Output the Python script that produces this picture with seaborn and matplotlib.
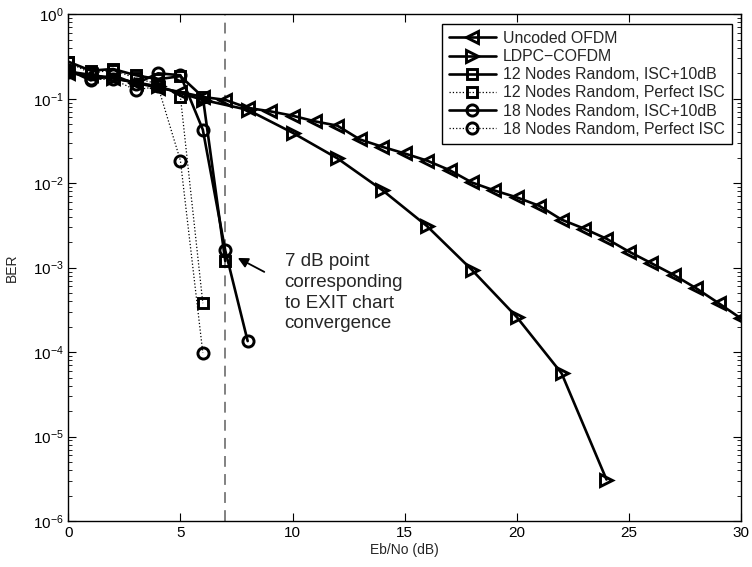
import matplotlib
matplotlib.use("Agg")
import matplotlib.pyplot as plt
import numpy as np
import pandas as pd
import seaborn as sns
from matplotlib.patches import FancyArrowPatch
from matplotlib.ticker import FixedLocator, LogFormatterSciNotation, NullFormatter

# Eb/No grid (dB) and bit error rates for each scheme
snr_uncoded = list(range(0, 31))
ber_uncoded = [0.20, 0.19, 0.175, 0.155, 0.135, 0.12, 0.105, 0.097, 0.078, 0.071,
               0.063, 0.054, 0.048, 0.033, 0.027, 0.0225, 0.0185, 0.0143, 0.0102,
               0.0082, 0.0068, 0.0054, 0.0037, 0.0029, 0.0022, 0.00155, 0.00113,
               0.00082, 0.00057, 0.00038, 0.00025]

snr_ldpc = list(range(0, 25, 2))
ber_ldpc = [0.21, 0.175, 0.14, 0.097, 0.074, 0.0396, 0.0197, 0.0083, 0.0031,
            0.00094, 0.00026, 5.6e-5, 3.1e-6]

snr_12_isc = list(range(0, 8))
ber_12_isc = [0.275, 0.215, 0.225, 0.19, 0.17, 0.185, 0.105, 0.0012]

snr_12_perfect = list(range(0, 7))
ber_12_perfect = [0.27, 0.2, 0.22, 0.175, 0.15, 0.106, 3.8e-4]

snr_18_isc = list(range(0, 9))
ber_18_isc = [0.22, 0.165, 0.19, 0.15, 0.2, 0.19, 0.043, 0.0016, 1.35e-4]

snr_18_perfect = list(range(0, 7))
ber_18_perfect = [0.21, 0.17, 0.17, 0.127, 0.14, 0.0185, 9.8e-5]

labels = ["Uncoded OFDM", "LDPC\u2212COFDM",
          "12 Nodes Random, ISC+10dB", "12 Nodes Random, Perfect ISC",
          "18 Nodes Random, ISC+10dB", "18 Nodes Random, Perfect ISC"]

x_ticks = [0, 5, 10, 15, 20, 25, 30]
y_decades = [1e-6, 1e-5, 1e-4, 1e-3, 1e-2, 1e-1, 1e0]

exit_point_db = 7

series = [
    (snr_uncoded, ber_uncoded, "<", "-", 1.9, 9),
    (snr_ldpc, ber_ldpc, ">", "-", 1.9, 9),
    (snr_12_isc, ber_12_isc, "s", "-", 1.9, 7),
    (snr_12_perfect, ber_12_perfect, "s", ":", 0.9, 7),
    (snr_18_isc, ber_18_isc, "o", "-", 1.9, 8),
    (snr_18_perfect, ber_18_perfect, "o", ":", 0.9, 8),
]

sns.set_theme(style="white")
plt.rcParams["font.family"] = ["Liberation Sans", "DejaVu Sans"]
plt.rcParams["mathtext.fontset"] = "custom"
plt.rcParams["mathtext.rm"] = "Liberation Sans"
plt.rcParams["mathtext.it"] = "Liberation Sans"

fig = plt.figure(figsize=(7.52, 5.67), dpi=100)
ax = fig.add_axes([0.0908, 0.0811, 0.8946, 0.8937])

for (x, y, mk, ls, lw, ms), lab in zip(series, labels):
    df = pd.DataFrame({"snr": x, "ber": y})
    sns.lineplot(data=df, x="snr", y="ber", ax=ax, color="black",
                 marker=mk, linestyle=ls, linewidth=lw, markersize=ms,
                 markerfacecolor="none", markeredgecolor="black",
                 markeredgewidth=2.1, label=lab, estimator=None, sort=False)

ax.axvline(exit_point_db, color="#777777", linestyle=(0, (6, 4)), linewidth=1.3,
           zorder=0)

ax.set_yscale("log")
ax.set_xlim(x_ticks[0], x_ticks[-1])
ax.set_ylim(y_decades[0], y_decades[-1])
ax.xaxis.set_major_locator(FixedLocator(x_ticks))
ax.yaxis.set_major_locator(FixedLocator(y_decades))
ax.yaxis.set_major_formatter(LogFormatterSciNotation())
minor_y = [m * d for d in y_decades[:-1] for m in range(2, 10)]
ax.yaxis.set_minor_locator(FixedLocator(minor_y))
ax.yaxis.set_minor_formatter(NullFormatter())
ax.tick_params(which="both", direction="in", top=True, right=True,
               bottom=True, left=True, labelsize=11, colors="black")
ax.tick_params(which="major", length=6, width=0.8)
ax.tick_params(which="minor", length=3, width=0.6)
for sp in ax.spines.values():
    sp.set_color("black")
    sp.set_linewidth(1.0)

ax.set_xlabel("Eb/No (dB)", fontsize=10, labelpad=2)
ax.set_ylabel("BER", fontsize=10, labelpad=10)

arrow = FancyArrowPatch((8.85, 8.6e-4), (7.45, 1.35e-3), transform=ax.transData,
                        arrowstyle="-|>", color="black", lw=1.3,
                        mutation_scale=15)
ax.add_patch(arrow)
ax.text(9.65, 1.5e-3, "7 dB point\ncorresponding\nto EXIT chart\nconvergence",
        fontsize=13.5, ha="left", va="top", linespacing=1.3)

leg = ax.legend(loc="upper right", fontsize=11.4, frameon=True, fancybox=False,
                framealpha=1, edgecolor="black", handlelength=3.0,
                handletextpad=0.4, labelspacing=0.2, borderpad=0.45,
                borderaxespad=0.6)
leg.get_frame().set_linewidth(1.0)

fig.savefig("out.png", dpi=100)
